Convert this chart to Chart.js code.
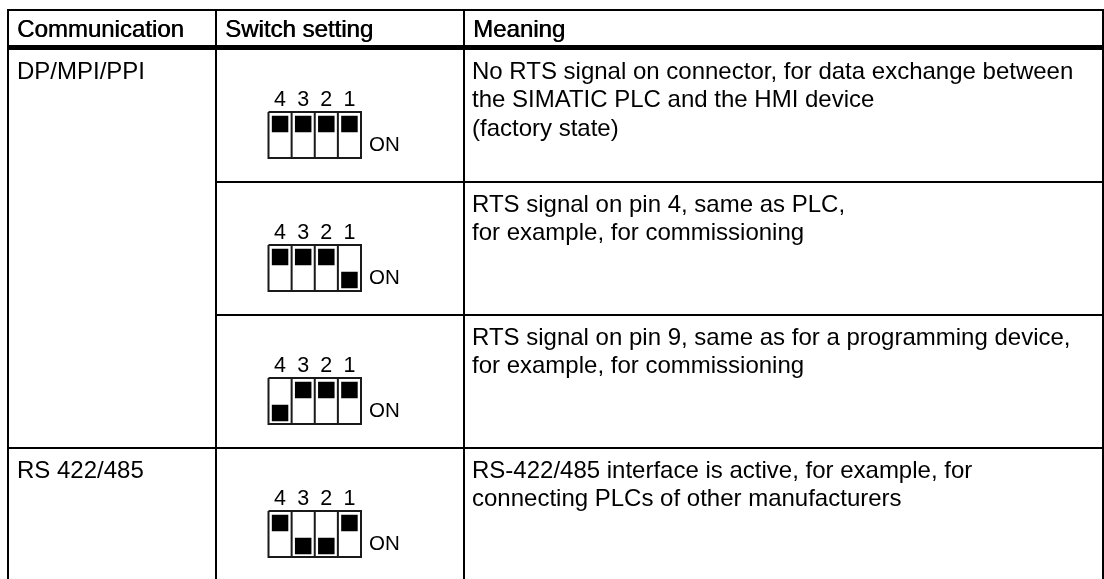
<!DOCTYPE html>
<html>
<head>
<meta charset="utf-8">
<title>Switch settings</title>
<script src="https://cdn.jsdelivr.net/npm/chart.js@4"></script>
<style>
  html, body { margin: 0; padding: 0; background: #fff; }
  #wrap { width: 1104px; height: 579px; }
  canvas { display: block; }
</style>
</head>
<body>
<div id="wrap"><canvas id="table-chart"></canvas></div>
<script>
/* ── Table content ─────────────────────────────────────────────────────── */

const HEADERS = ['Communication', 'Switch setting', 'Meaning'];
const COMMUNICATION = ['DP/MPI/PPI', '', '', 'RS 422/485'];
const SWITCH_NUMBERS = ['4', '3', '2', '1'];
const SWITCH_ON_LABEL = 'ON';

// one entry per switch, in the order 4 3 2 1: 1 = slider up, 0 = slider down
const SWITCH_ROW_1 = [1, 1, 1, 1];
const SWITCH_ROW_2 = [1, 1, 1, 0];
const SWITCH_ROW_3 = [0, 1, 1, 1];
const SWITCH_ROW_4 = [1, 0, 0, 1];

const MEANING_1 = ['No RTS signal on connector, for data exchange between', 'the SIMATIC PLC and the HMI device', '(factory state)'];
const MEANING_2 = ['RTS signal on pin 4, same as PLC,', 'for example, for commissioning'];
const MEANING_3 = ['RTS signal on pin 9, same as for a programming device,', 'for example, for commissioning'];
const MEANING_4 = ['RS-422/485 interface is active, for example, for', 'connecting PLCs of other manufacturers'];

const SWITCH_ROWS = [SWITCH_ROW_1, SWITCH_ROW_2, SWITCH_ROW_3, SWITCH_ROW_4];
const MEANINGS = [MEANING_1, MEANING_2, MEANING_3, MEANING_4];

/* ── Layout, in scale units (the scales run 1:1 over the canvas) ───────── */

const W = 1104, H = 579;
const COL_X = [8, 216, 464, 1103];
const TABLE_TOP = 10;
const HEADER_Y = 47.5;
const ROW_Y = [182, 315, 448];   // rules below rows 1-3
const TEXT_Y = [79, 212, 345, 478];
const LINE_GAP = 28.4;
const BOX_LEFT = 268.5, BOX_W = 92.5, BOX_H = 46;
const BOX_TOPS = [112, 245, 378, 511];
const SLIDER_SIZE = 16.5;

const FONT = '"Liberation Sans", Arial, sans-serif';

// polyline helper: a null point breaks the line between segments
function segments(list) {
  const pts = [];
  list.forEach(s => { s.forEach(([x, y]) => pts.push({ x, y })); pts.push({ x: null, y: null }); });
  return pts;
}

function buildRules() {
  const s = [];
  s.push([[COL_X[0] - 1, TABLE_TOP], [COL_X[3] + 1, TABLE_TOP]]);
  COL_X.forEach(x => s.push([[x, TABLE_TOP], [x, H]]));
  ROW_Y.forEach((y, i) => {
    // first column is merged over rows 1-3
    const from = i < 2 ? COL_X[1] : COL_X[0];
    s.push([[from, y], [COL_X[3], y]]);
  });
  return segments(s);
}

function buildBoxes() {
  const s = [];
  BOX_TOPS.forEach(t => {
    const cell = BOX_W / SWITCH_NUMBERS.length;
    s.push([[BOX_LEFT, t], [BOX_LEFT + BOX_W, t], [BOX_LEFT + BOX_W, t + BOX_H], [BOX_LEFT, t + BOX_H], [BOX_LEFT, t]]);
    for (let i = 1; i < SWITCH_NUMBERS.length; i++) {
      s.push([[BOX_LEFT + i * cell, t], [BOX_LEFT + i * cell, t + BOX_H]]);
    }
  });
  return segments(s);
}

function buildSliders() {
  const pts = [];
  SWITCH_ROWS.forEach((row, r) => {
    const t = BOX_TOPS[r], cell = BOX_W / row.length;
    row.forEach((up, i) => {
      pts.push({
        x: BOX_LEFT + (i + 0.5) * cell,
        y: t + (up ? 12 : 35),
      });
    });
  });
  return pts;
}

/* ── Text, placed through the scales ───────────────────────────────────── */

const tableText = {
  id: 'tableText',
  afterDatasetsDraw(chart) {
    const { ctx, scales: { x, y } } = chart;
    const put = (text, px, py, font, align) => {
      ctx.font = font + ' ' + FONT;
      ctx.textAlign = align || 'left';
      ctx.fillText(text, x.getPixelForValue(px), y.getPixelForValue(py));
    };
    ctx.save();
    ctx.fillStyle = '#000';
    ctx.textBaseline = 'alphabetic';

    HEADERS.forEach((h, i) => {
      // header reads heavier than the body: struck twice
      put(h, COL_X[i] + 9, 36.5, '24px');
      put(h, COL_X[i] + 9.6, 36.5, '24px');
    });

    TEXT_Y.forEach((base, r) => {
      if (COMMUNICATION[r]) put(COMMUNICATION[r], COL_X[0] + 9, base, '24px');
      MEANINGS[r].forEach((line, i) => put(line, COL_X[2] + 8, base + i * LINE_GAP, '24px'));
      const t = BOX_TOPS[r], cell = BOX_W / SWITCH_NUMBERS.length;
      SWITCH_NUMBERS.forEach((n, i) => put(n, BOX_LEFT + (i + 0.5) * cell, t - 6.5, '21.5px', 'center'));
      put(SWITCH_ON_LABEL, BOX_LEFT + BOX_W + 8, t + 38.7, '20.5px');
    });
    ctx.restore();
  }
};

/* ── Chart ─────────────────────────────────────────────────────────────── */

new Chart(document.getElementById('table-chart'), {
  type: 'scatter',
  plugins: [tableText],
  data: {
    datasets: [
      { label: 'rules', data: buildRules(), showLine: true, spanGaps: false,
        borderColor: '#000', borderWidth: 2, pointRadius: 0 },
      { label: 'header rule', data: [{ x: COL_X[0] - 1, y: HEADER_Y }, { x: COL_X[3] + 1, y: HEADER_Y }], showLine: true,
        borderColor: '#000', borderWidth: 5, pointRadius: 0 },
      { label: 'switch boxes', data: buildBoxes(), showLine: true, spanGaps: false,
        borderColor: '#1a1a1a', borderWidth: 2, pointRadius: 0 },
      { label: 'sliders', data: buildSliders(), showLine: false,
        pointStyle: 'rect', pointRadius: SLIDER_SIZE / Math.SQRT2,
        backgroundColor: '#000', borderColor: '#000', borderWidth: 0 },
    ]
  },
  options: {
    animation: false,
    responsive: true,
    maintainAspectRatio: false,
    layout: { padding: 0, autoPadding: false },
    plugins: { legend: { display: false }, tooltip: { enabled: false } },
    scales: {
      x: { type: 'linear', display: false, min: 0, max: W },
      y: { type: 'linear', display: false, min: 0, max: H, reverse: true },
    }
  }
});
</script>
</body>
</html>
